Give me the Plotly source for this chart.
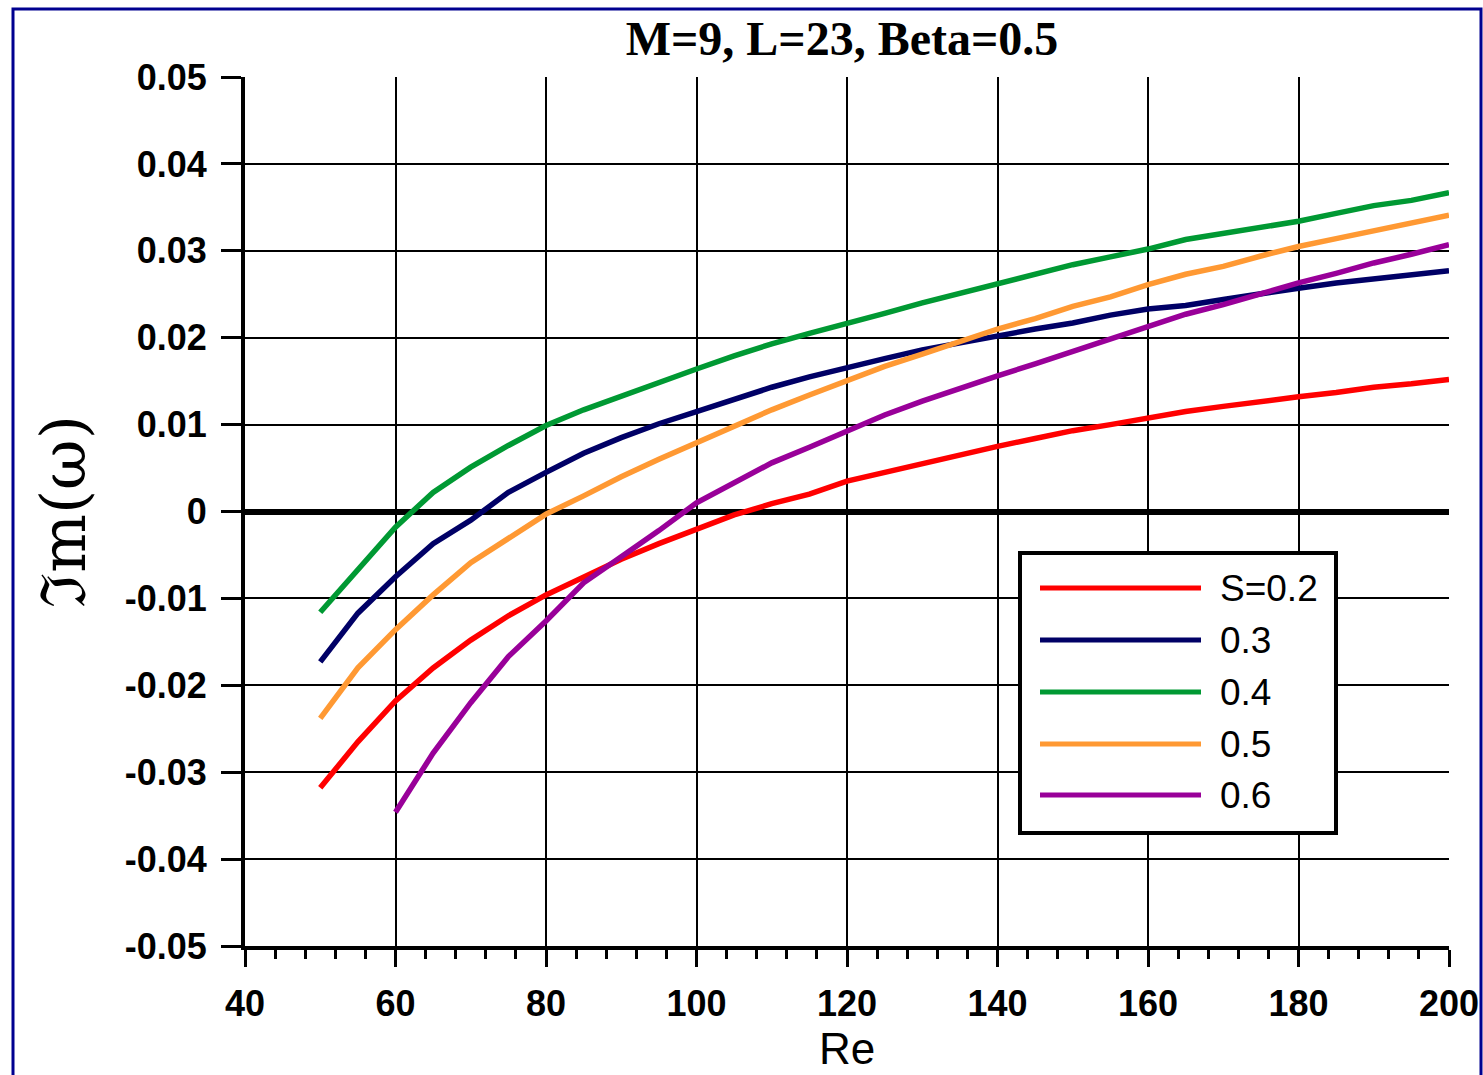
import plotly.graph_objects as go

# ---------------- data ----------------
re_values = [50, 55, 60, 65, 70, 75, 80, 85, 90, 95, 100, 105, 110, 115, 120, 125,
             130, 135, 140, 145, 150, 155, 160, 165, 170, 175, 180, 185, 190, 195, 200]
re_values_s06 = re_values[2:]

im_s02 = [-0.0318, -0.0265, -0.0218, -0.0180, -0.0148, -0.0120, -0.0096, -0.0076, -0.0055,
          -0.0037, -0.0020, -0.0004, 0.0009, 0.0020, 0.0035, 0.0045, 0.0056, 0.0065, 0.0075,
          0.0084, 0.0093, 0.0100, 0.0108, 0.0115, 0.0121, 0.0127, 0.0132, 0.0137, 0.0143,
          0.0147, 0.0152]
im_s03 = [-0.0173, -0.0117, -0.0075, -0.0037, -0.0010, 0.0022, 0.0045, 0.0067, 0.0085,
          0.0101, 0.0115, 0.0129, 0.0143, 0.0155, 0.0166, 0.0176, 0.0186, 0.0194, 0.0203,
          0.0210, 0.0217, 0.0226, 0.0233, 0.0237, 0.0244, 0.0251, 0.0257, 0.0263, 0.0268,
          0.0273, 0.0277]
im_s04 = [-0.0116, -0.0066, -0.0018, 0.0022, 0.0051, 0.0076, 0.0099, 0.0117, 0.0133,
          0.0149, 0.0164, 0.0179, 0.0193, 0.0205, 0.0216, 0.0228, 0.0240, 0.0251, 0.0263,
          0.0273, 0.0284, 0.0293, 0.0302, 0.0313, 0.0320, 0.0328, 0.0334, 0.0343, 0.0352,
          0.0358, 0.0367]
im_s05 = [-0.0238, -0.0180, -0.0136, -0.0096, -0.0059, -0.0031, -0.0003, 0.0018, 0.0040,
          0.0060, 0.0079, 0.0099, 0.0117, 0.0134, 0.0151, 0.0167, 0.0181, 0.0196, 0.0210,
          0.0222, 0.0236, 0.0247, 0.0261, 0.0273, 0.0282, 0.0294, 0.0305, 0.0314, 0.0323,
          0.0332, 0.0341]
im_s06 = [-0.0346, -0.0278, -0.0220, -0.0167, -0.0126, -0.0082, -0.0052, -0.0022, 0.0010,
          0.0033, 0.0056, 0.0074, 0.0093, 0.0111, 0.0127, 0.0142, 0.0156, 0.0170, 0.0184,
          0.0199, 0.0212, 0.0227, 0.0238, 0.0251, 0.0263, 0.0274, 0.0286, 0.0296, 0.0307]

series_names = ["S=0.2", "0.3", "0.4", "0.5", "0.6"]
series_colors = ["#FF0000", "#000066", "#009933", "#FF9933", "#990099"]
series_x = [re_values, re_values, re_values, re_values, re_values_s06]
series_y = [im_s02, im_s03, im_s04, im_s05, im_s06]

y_tick_values = [0.05, 0.04, 0.03, 0.02, 0.01, 0, -0.01, -0.02, -0.03, -0.04, -0.05]
y_tick_labels = ["0.05", "0.04", "0.03", "0.02", "0.01", "0", "-0.01", "-0.02", "-0.03", "-0.04", "-0.05"]
x_tick_values = [40, 60, 80, 100, 120, 140, 160, 180, 200]

title_text = "M=9, L=23, Beta=0.5"
x_title = "Re"
y_title = "\u2111m(\u03c9)"

# ---------------- layout geometry ----------------
W, H = 1483, 1075
L, R, T, B = 245, 1449, 77, 946   # plot area in px


def px_x(px):
    return (px - L) / (R - L)


def px_y(py):
    return (B - py) / (B - T)


fig = go.Figure()
for name, color, xs, ys in zip(series_names, series_colors, series_x, series_y):
    fig.add_trace(go.Scatter(x=xs, y=ys, mode="lines", name=name,
                             line=dict(color=color, width=5.5),
                             showlegend=False))

shapes = []
annotations = []

# outer blue frame
shapes.append(dict(type="rect", xref="paper", yref="paper",
                   x0=px_x(13), x1=px_x(1481), y0=px_y(1090), y1=px_y(9),
                   line=dict(color="#000090", width=3), fillcolor="rgba(0,0,0,0)",
                   layer="above"))

# manual legend
leg_x0, leg_x1, leg_y0, leg_y1 = 1020, 1336, 553, 833
shapes.append(dict(type="rect", xref="paper", yref="paper",
                   x0=px_x(leg_x0), x1=px_x(leg_x1), y0=px_y(leg_y1), y1=px_y(leg_y0),
                   line=dict(color="black", width=4), fillcolor="white", layer="above"))
row_y = [588, 640, 692, 744, 795]
for name, color, ry in zip(series_names, series_colors, row_y):
    shapes.append(dict(type="line", xref="paper", yref="paper",
                       x0=px_x(1040), x1=px_x(1201), y0=px_y(ry), y1=px_y(ry),
                       line=dict(color=color, width=5), layer="above"))
    annotations.append(dict(xref="paper", yref="paper", x=px_x(1218), y=px_y(ry),
                            xanchor="left", yanchor="middle", showarrow=False,
                            text=name,
                            font=dict(family="Liberation Sans, Arial", size=37, color="black")))

fig.update_layout(
    width=W, height=H, autosize=False,
    margin=dict(l=L, r=W - R, t=T, b=H - B, pad=0, autoexpand=False),
    paper_bgcolor="white", plot_bgcolor="white",
    title=dict(text=title_text, x=px_x(842), xref="paper", xanchor="center",
               y=1 - 38 / H, yref="container", yanchor="middle",
               font=dict(family="Liberation Serif, Times New Roman", size=48,
                         color="black", weight="bold")),
    shapes=shapes,
    annotations=annotations,
    showlegend=False,
)

fig.update_xaxes(
    automargin=False,
    range=[40, 200], tickvals=x_tick_values,
    showgrid=True, gridcolor="black", gridwidth=2,
    showline=True, linecolor="black", linewidth=4,
    ticks="outside", ticklen=17, tickwidth=3, tickcolor="black",
    minor=dict(dtick=4, tick0=40, ticks="outside", ticklen=9, tickwidth=3,
               tickcolor="black", showgrid=False),
    tickfont=dict(family="Liberation Sans, Arial", size=36, color="black", weight="bold"),
    ticklabelstandoff=6,
    zeroline=False,
    title=dict(text=x_title, standoff=11,
               font=dict(family="Liberation Sans, Arial", size=44, color="black")),
)
fig.update_yaxes(
    automargin=False,
    range=[-0.05, 0.05], tickvals=y_tick_values, ticktext=y_tick_labels,
    showgrid=True, gridcolor="black", gridwidth=2,
    showline=True, linecolor="black", linewidth=4,
    ticks="outside", ticklen=20, tickwidth=3, tickcolor="black",
    tickfont=dict(family="Liberation Sans, Arial", size=36, color="black", weight="bold"),
    ticklabelstandoff=7,
    zeroline=True, zerolinecolor="black", zerolinewidth=6,
    title=dict(text=y_title, standoff=20,
               font=dict(family="DejaVu Serif, Liberation Serif", size=62, color="black")),
)

fig.write_html("out.html", config={"responsive": False})
